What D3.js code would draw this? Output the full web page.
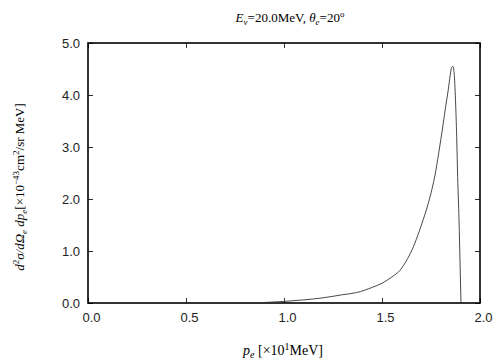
<!DOCTYPE html>
<html><head><meta charset="utf-8">
<script src="https://cdn.jsdelivr.net/npm/d3@7"></script>
<style>body{margin:0;background:#fff}svg{display:block}</style>
</head><body>
<svg id="c" width="504" height="360"></svg>
<script>
const xTicks = [0.0, 0.5, 1.0, 1.5, 2.0];
const yTicks = [0.0, 1.0, 2.0, 3.0, 4.0, 5.0];
const pe = [0.79, 0.9, 1.0, 1.1, 1.2, 1.3, 1.37, 1.45, 1.5, 1.55, 1.592, 1.63, 1.66, 1.69, 1.71, 1.745, 1.77, 1.79, 1.81, 1.825, 1.838, 1.848, 1.855, 1.862, 1.868, 1.875, 1.881, 1.886, 1.893, 1.898, 1.903];
const xs = [0.0, 0.01, 0.03, 0.06, 0.1, 0.16, 0.2, 0.3, 0.38, 0.5, 0.63, 0.85, 1.08, 1.38, 1.6, 2.04, 2.45, 2.9, 3.39, 3.78, 4.1, 4.38, 4.53, 4.55, 4.42, 3.9, 3.2, 2.43, 1.6, 0.8, 0.0];

const svg = d3.select('#c');
const L = 88, R = 480, T = 43, B = 303;
const x = d3.scaleLinear().domain([0, 2]).range([L, R]);
const y = d3.scaleLinear().domain([0, 5]).range([B, T]);
const tickFont = '"Liberation Sans", Arial, sans-serif';
const serif = '"Liberation Serif", "Times New Roman", serif';

const gBottom = svg.append('g').attr('transform', `translate(0,${B})`)
  .call(d3.axisBottom(x).tickValues(xTicks).tickFormat(d3.format('.1f')).tickSizeInner(-5).tickSizeOuter(0).tickPadding(10));
const gTop = svg.append('g').attr('transform', `translate(0,${T})`)
  .call(d3.axisTop(x).tickValues(xTicks).tickFormat('').tickSizeInner(-5).tickSizeOuter(0));
const gLeft = svg.append('g').attr('transform', `translate(${L},0)`)
  .call(d3.axisLeft(y).tickValues(yTicks).tickFormat(d3.format('.1f')).tickSizeInner(-5).tickSizeOuter(0).tickPadding(8));
const gRight = svg.append('g').attr('transform', `translate(${R},0)`)
  .call(d3.axisRight(y).tickValues(yTicks).tickFormat('').tickSizeInner(-5).tickSizeOuter(0));
[gBottom, gTop, gLeft, gRight].forEach(g => {
  g.select('.domain').remove();
  g.selectAll('line').attr('stroke', '#333').attr('stroke-width', 1);
  g.selectAll('text').attr('font-family', tickFont).attr('font-size', 13).attr('fill', '#222');
});
gBottom.selectAll('text').attr('dx', 3);

svg.append('rect').attr('x', L).attr('y', T).attr('width', R - L).attr('height', B - T)
  .attr('fill', 'none').attr('stroke', '#000').attr('stroke-width', 1.6);

const data = pe.map((p, i) => [p, xs[i]]);
svg.append('path').datum(data)
  .attr('d', d3.line().x(d => x(d[0])).y(d => y(d[1])).curve(d3.curveMonotoneX))
  .attr('fill', 'none').attr('stroke', '#333').attr('stroke-width', 0.9);

const t = svg.append('text').attr('x', 290).attr('y', 22).attr('text-anchor', 'middle')
  .attr('font-family', serif).attr('font-size', 13);
t.append('tspan').attr('font-style', 'italic').text('E');
t.append('tspan').attr('font-style', 'italic').attr('font-size', 9).attr('dy', 3).text('ν');
t.append('tspan').attr('dy', -3).text('=20.0MeV,  ');
t.append('tspan').attr('font-style', 'italic').text('θ');
t.append('tspan').attr('font-style', 'italic').attr('font-size', 9).attr('dy', 3).text('e');
t.append('tspan').attr('dy', -3).text('=20');
t.append('tspan').attr('font-size', 9).attr('dy', -5).text('o');

const xl = svg.append('text').attr('x', 283).attr('y', 355).attr('text-anchor', 'middle')
  .attr('font-family', serif).attr('font-size', 14);
xl.append('tspan').attr('font-style', 'italic').text('p');
xl.append('tspan').attr('font-style', 'italic').attr('font-size', 10).attr('dy', 3).text('e');
xl.append('tspan').attr('dy', -3).text(' [×10');
xl.append('tspan').attr('font-size', 10).attr('dy', -5).text('1');
xl.append('tspan').attr('dy', 5).text('MeV]');

const yl = svg.append('text').attr('transform', 'translate(24,187) rotate(-90)').attr('text-anchor', 'middle')
  .attr('font-family', serif).attr('font-size', 13);
yl.append('tspan').attr('font-style', 'italic').text('d');
yl.append('tspan').attr('font-size', 9).attr('dy', -5).text('2');
yl.append('tspan').attr('font-style', 'italic').attr('dy', 5).text('σ/dΩ');
yl.append('tspan').attr('font-style', 'italic').attr('font-size', 9).attr('dy', 3).text('e');
yl.append('tspan').attr('font-style', 'italic').attr('dy', -3).text(' dp');
yl.append('tspan').attr('font-style', 'italic').attr('font-size', 9).attr('dy', 3).text('e');
yl.append('tspan').attr('dy', -3).text('[×10');
yl.append('tspan').attr('font-size', 9).attr('dy', -5).text('−43');
yl.append('tspan').attr('dy', 5).text('cm');
yl.append('tspan').attr('font-size', 9).attr('dy', -5).text('2');
yl.append('tspan').attr('dy', 5).text('/sr MeV]');
</script>
</body></html>
